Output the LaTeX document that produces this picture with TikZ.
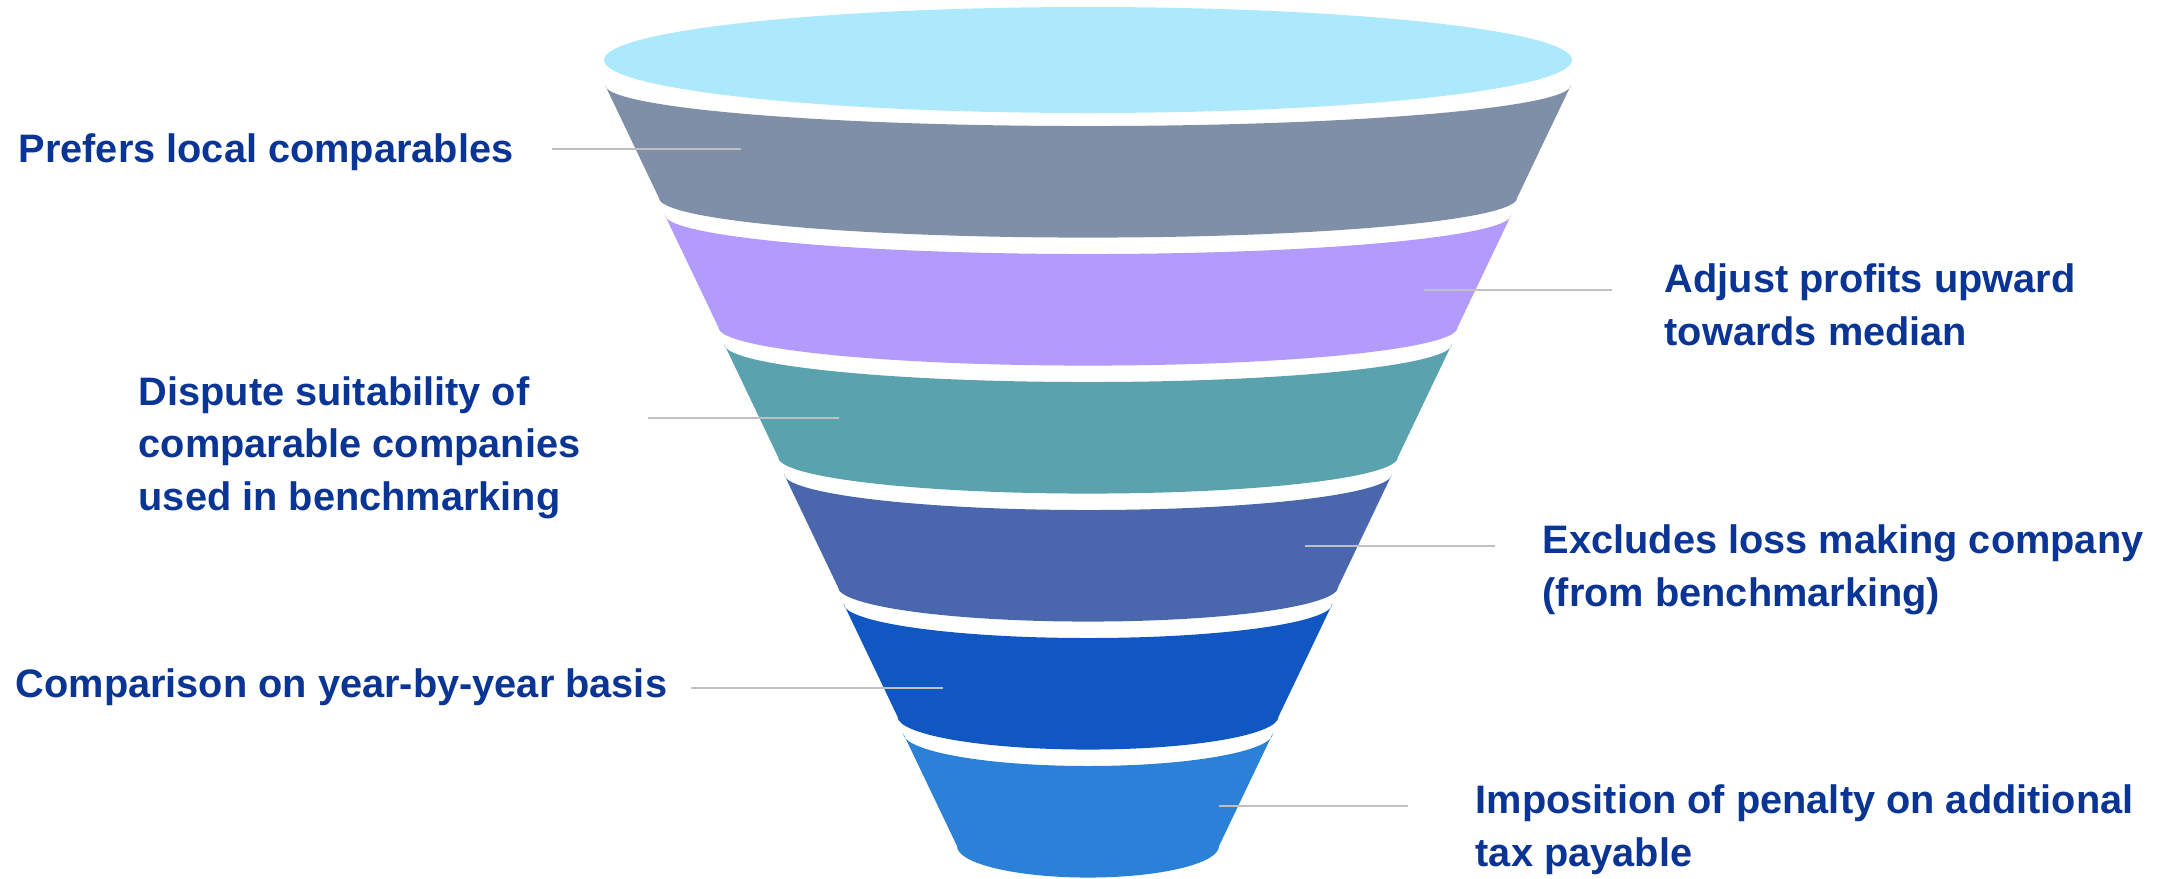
\documentclass[tikz,border=0pt]{standalone}
\usepackage{fontspec}
\setmainfont{Liberation Sans}

\definecolor{rim}{HTML}{ADE9FD}
\definecolor{lay1}{HTML}{7F8FA8}
\definecolor{lay2}{HTML}{B39AFD}
\definecolor{lay3}{HTML}{5AA3AE}
\definecolor{lay4}{HTML}{4A67AE}
\definecolor{lay5}{HTML}{1157C4}
\definecolor{lay6}{HTML}{2B80D8}
\definecolor{txtblue}{HTML}{0A3594}
\definecolor{leadgrey}{HTML}{C0C0C0}

\begin{document}
\begin{tikzpicture}[x=0.01cm,y=-0.01cm,
  lbl/.style={anchor=base west,inner sep=0pt,align=left,text=txtblue,
    font=\fontsize{11.3}{14.8}\selectfont\bfseries},
  leader/.style={draw=leadgrey,line width=0.6pt}]
  \useasboundingbox (0,0) rectangle (2167,878);

  % open top of the funnel
  \fill[rim] (1088,60) ellipse [x radius=484, y radius=53];

  % the six layers, each one narrower than the one above
  \foreach \k/\c in {0/lay1,1/lay2,2/lay3,3/lay4,4/lay5,5/lay6}{
    \pgfmathsetmacro\yt{85+129.6*\k}
    \pgfmathsetmacro\yb{\yt+113}
    \pgfmathsetmacro\wt{483-59.6*\k}
    \pgfmathsetmacro\wb{\wt-54}
    \pgfmathsetmacro\dt{28+0.027*\wt}
    \pgfmathsetmacro\db{28+0.027*\wb}
    \fill[\c] (1088-\wt,\yt) -- (1088-\wb,\yb)
      arc[start angle=180,end angle=0,x radius=\wb,y radius=\db]
      -- (1088+\wt,\yt)
      arc[start angle=0,end angle=180,x radius=\wt,y radius=\dt] -- cycle;
  }

  % labels (base = baseline of the last line)
  \node[lbl] (l1) at (18,162) {Prefers local comparables};
  \node[lbl] (l2) at (1664,345) {Adjust profits upward\\towards median};
  \node[lbl] (l3) at (138,510) {Dispute suitability of\\comparable companies\\used in benchmarking};
  \node[lbl] (l4) at (1542,606) {Excludes loss making company\\(from benchmarking)};
  \node[lbl] (l5) at (15,697) {Comparison on year-by-year basis};
  \node[lbl] (l6) at (1475,866) {Imposition of penalty on additional\\tax payable};

  % leader lines into the layers
  \coordinate (a1) at (552,149);  \coordinate (b1) at (741,149);
  \coordinate (a2) at (1612,290); \coordinate (b2) at (1424,290);
  \coordinate (a3) at (648,418);  \coordinate (b3) at (839,418);
  \coordinate (a4) at (1495,546); \coordinate (b4) at (1305,546);
  \coordinate (a5) at (691,688);  \coordinate (b5) at (943,688);
  \coordinate (a6) at (1408,806); \coordinate (b6) at (1219,806);
  \foreach \i in {1,...,6}
    \draw[leader] (a\i) -- (b\i);
\end{tikzpicture}
\end{document}
